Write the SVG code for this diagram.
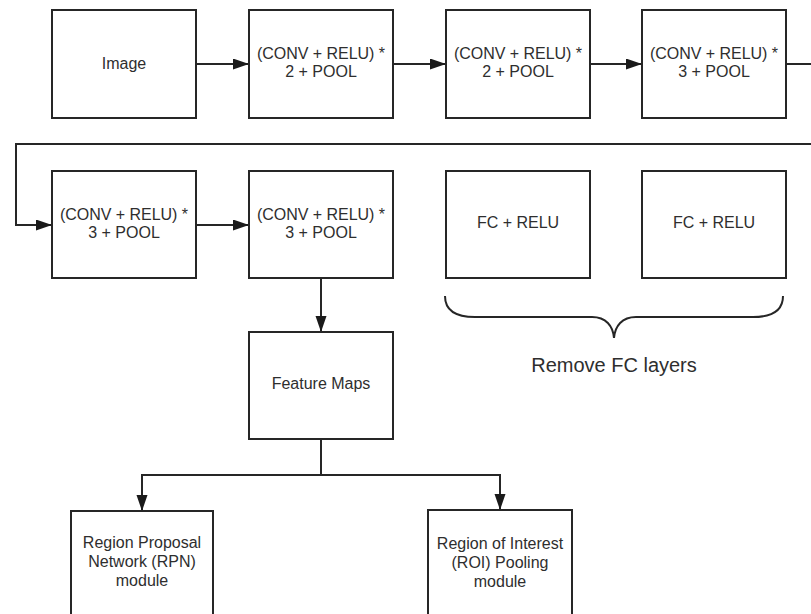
<svg xmlns="http://www.w3.org/2000/svg" width="811" height="614" viewBox="0 0 811 614">
  <style>
    .box { fill: #ffffff; stroke: #262626; stroke-width: 2; }
    .lbl { font-family: "Liberation Sans", Arial, sans-serif; font-size: 16px; fill: #2e2e2e; text-anchor: middle; }
    .note { font-family: "Liberation Sans", Arial, sans-serif; font-size: 20px; fill: #2e2e2e; text-anchor: middle; }
    .wire { fill: none; stroke: #262626; stroke-width: 2; }
  </style>
  <defs>
    <marker id="arrow" markerUnits="userSpaceOnUse" markerWidth="17" markerHeight="12" refX="16" refY="5.5" orient="auto">
      <path d="M0,0 L16,5.5 L0,11 Z" fill="#1a1a1a"/>
    </marker>
  </defs>
  <rect width="811" height="614" fill="#ffffff"/>

  <g id="connectors">
    <path class="wire" d="M196,64 H249" marker-end="url(#arrow)"/>
    <path class="wire" d="M393,64 H446" marker-end="url(#arrow)"/>
    <path class="wire" d="M590,64 H642" marker-end="url(#arrow)"/>
    <path class="wire" d="M786,64 H822 V144 H16 V225 H52" marker-end="url(#arrow)"/>
    <path class="wire" d="M196,225 H249" marker-end="url(#arrow)"/>
    <path class="wire" d="M321,278 V332" marker-end="url(#arrow)"/>
    <path class="wire" d="M321,439 V475"/>
    <path class="wire" d="M321,475 H142 V511" marker-end="url(#arrow)"/>
    <path class="wire" d="M321,475 H500 V510" marker-end="url(#arrow)"/>
  </g>

  <g id="image">
    <rect class="box" x="52" y="10" width="144" height="108"/>
    <text class="lbl" x="124" y="69">Image</text>
  </g>
  <g id="block1">
    <rect class="box" x="249" y="10" width="144" height="108"/>
    <text class="lbl" x="321" y="59" textLength="128" lengthAdjust="spacing">(CONV + RELU) *</text>
    <text class="lbl" x="321" y="77">2 + POOL</text>
  </g>
  <g id="block2">
    <rect class="box" x="446" y="10" width="144" height="108"/>
    <text class="lbl" x="518" y="59" textLength="128" lengthAdjust="spacing">(CONV + RELU) *</text>
    <text class="lbl" x="518" y="77">2 + POOL</text>
  </g>
  <g id="block3">
    <rect class="box" x="642" y="10" width="144" height="108"/>
    <text class="lbl" x="714" y="59" textLength="128" lengthAdjust="spacing">(CONV + RELU) *</text>
    <text class="lbl" x="714" y="77">3 + POOL</text>
  </g>
  <g id="block4">
    <rect class="box" x="52" y="171" width="144" height="107"/>
    <text class="lbl" x="124" y="220" textLength="128" lengthAdjust="spacing">(CONV + RELU) *</text>
    <text class="lbl" x="124" y="238">3 + POOL</text>
  </g>
  <g id="block5">
    <rect class="box" x="249" y="171" width="144" height="107"/>
    <text class="lbl" x="321" y="220" textLength="128" lengthAdjust="spacing">(CONV + RELU) *</text>
    <text class="lbl" x="321" y="238">3 + POOL</text>
  </g>
  <g id="fc1">
    <rect class="box" x="446" y="171" width="144" height="107"/>
    <text class="lbl" x="518" y="228">FC + RELU</text>
  </g>
  <g id="fc2">
    <rect class="box" x="642" y="171" width="144" height="107"/>
    <text class="lbl" x="714" y="228">FC + RELU</text>
  </g>
  <g id="fc-brace">
    <path class="wire" d="M445,296 C445,310 455,317 475,317 H592 C606,317 613,326 614,338 C615,326 622,317 636,317 H753 C773,317 783,310 783,296"/>
    <text class="note" x="614" y="372">Remove FC layers</text>
  </g>
  <g id="feature-maps">
    <rect class="box" x="249" y="332" width="144" height="107"/>
    <text class="lbl" x="321" y="389">Feature Maps</text>
  </g>
  <g id="rpn">
    <rect class="box" x="71" y="511" width="142" height="110"/>
    <text class="lbl" x="142" y="548">Region Proposal</text>
    <text class="lbl" x="142" y="567">Network (RPN)</text>
    <text class="lbl" x="142" y="586">module</text>
  </g>
  <g id="roi">
    <rect class="box" x="428" y="510" width="144" height="110"/>
    <text class="lbl" x="500" y="549">Region of Interest</text>
    <text class="lbl" x="500" y="568">(ROI) Pooling</text>
    <text class="lbl" x="500" y="587">module</text>
  </g>
</svg>
